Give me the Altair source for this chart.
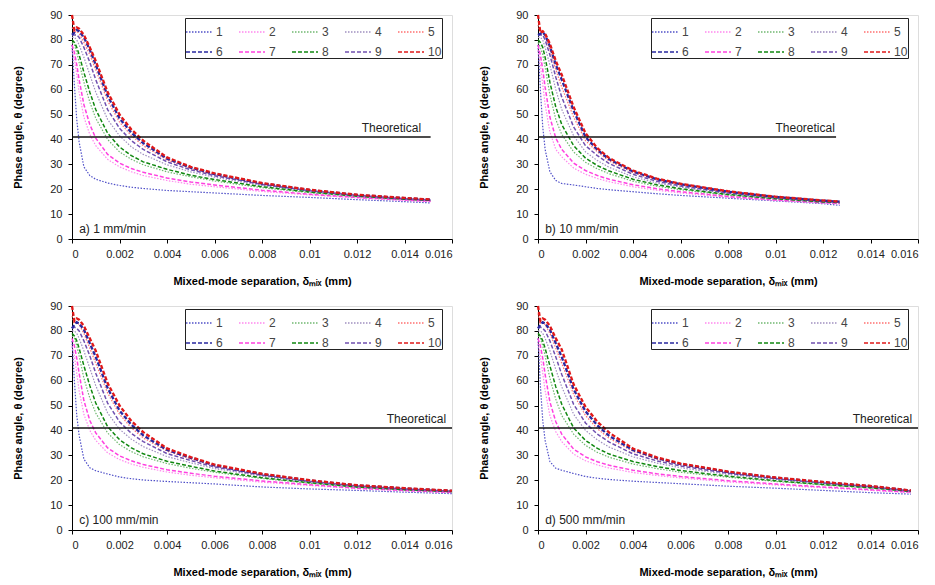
import altair as alt
import pandas as pd

SERIES = ["1", "2", "3", "4", "5", "6", "7", "8", "9", "10"]
COLORS = ["#5050c8", "#ff88ee", "#70b870", "#a090c0", "#ff7070",
          "#2828a0", "#ff40e0", "#108810", "#7050b0", "#e01818"]
DASHES = [[1.5, 1.5]] * 5 + [[4, 2]] * 5
THIN = ["1", "2", "3", "4", "5"]
MID = ["7", "8", "9"]
THICK = ["6", "10"]

PANEL_LABELS = ["a) 1 mm/min", "b) 10 mm/min", "c) 100 mm/min", "d) 500 mm/min"]
THEO_VALUE = 41
THEO_END = [0.0151, 0.01255, 0.016, 0.016]
THEO_TEXT_X = [0.0147, 0.0125, 0.01575, 0.01575]
LABEL_X = [0.0003, 0.0003, 0.0003, 0.0003]
LABEL_Y = [4, 4, 4, 4]
X_TICKS = [0, 0.002, 0.004, 0.006, 0.008, 0.01, 0.012, 0.014, 0.016]
Y_TICKS = [0, 10, 20, 30, 40, 50, 60, 70, 80, 90]

# ---- panel a) 1 mm/min ----
A_X = [0, 0.0001, 0.0002, 0.0003, 0.0005, 0.00075, 0.001, 0.0015, 0.002, 0.0025,
       0.003, 0.004, 0.005, 0.006, 0.008, 0.010, 0.012, 0.014, 0.0151]
A1 = [78, 62, 48, 39, 29, 25.5, 24, 22.5, 21.5, 20.8, 20.3, 19.5, 19, 18.5, 17.5, 16.7, 15.8, 15.0, 14.5]
A2 = [76, 72, 66, 59, 49, 42, 37.5, 32, 29, 27, 25.5, 23.5, 22, 21.0, 19.1, 17.7, 16.5, 15.5, 15.0]
A3 = [79, 78, 75, 71, 63, 55, 48.5, 40, 35, 32, 29.8, 27, 25, 23.3, 20.6, 18.6, 17.0, 15.9, 15.4]
A4 = [81, 81, 80, 78, 73, 66, 59, 48, 41.5, 37, 34, 29.8, 27, 24.8, 21.5, 19.2, 17.4, 16.1, 15.6]
A5 = [85, 83, 83.5, 82.5, 79, 74, 68, 55.5, 47, 41.5, 37.5, 31.8, 28.3, 25.8, 22.1, 19.5, 17.6, 16.3, 15.8]
A6 = [82, 83, 84, 83.5, 81, 76, 70, 57.5, 48.5, 42.7, 38.5, 32.3, 28.7, 26.1, 22.3, 19.7, 17.7, 16.4, 15.8]
A7 = [78, 75, 70, 64, 54, 46, 40.5, 34, 30.5, 28.3, 26.8, 24.5, 22.9, 21.7, 19.6, 18.0, 16.7, 15.7, 15.2]
A8 = [80, 79, 77, 74, 67, 59, 52, 42.5, 37, 33.5, 31, 28, 25.6, 23.9, 21.0, 18.9, 17.2, 16.0, 15.5]
A9 = [82, 82, 82, 81, 77, 71, 64, 52, 44.5, 39.5, 36, 31, 27.8, 25.4, 21.9, 19.4, 17.5, 16.2, 15.7]
A10 = [90, 84, 85, 84.5, 82, 77, 71.5, 59, 50, 44, 39.5, 32.8, 29.0, 26.4, 22.5, 19.8, 17.8, 16.5, 15.9]

# ---- panel b) 10 mm/min ----
B_X = [0, 0.0001, 0.0002, 0.0003, 0.0005, 0.00075, 0.001, 0.0015, 0.002, 0.0025,
       0.003, 0.004, 0.005, 0.006, 0.008, 0.010, 0.012, 0.0127]
B1 = [78, 60, 45, 36, 27, 23.5, 22.3, 21.7, 21, 20.3, 19.8, 19, 18.2, 17.5, 16.4, 15.3, 14.2, 13.5]
B2 = [76, 70, 62, 54, 43, 36, 33, 28.5, 26, 24.3, 23, 21, 19.6, 18.5, 16.8, 15.5, 14.4, 14.1]
B3 = [79, 77, 74, 69, 58, 48, 42, 35, 30.8, 28.2, 26.2, 23.2, 21.2, 19.8, 17.6, 16, 14.8, 14.5]
B4 = [81, 81, 80, 77, 70, 60, 52, 41.5, 35, 31.5, 28.8, 25, 22.5, 20.8, 18.2, 16.4, 15, 14.7]
B5 = [86, 83, 83, 81.5, 76, 68, 61, 49, 39.5, 35, 31.3, 26.7, 23.7, 21.7, 18.8, 16.8, 15.3, 14.9]
B6 = [82, 82.5, 83, 82, 77.5, 70, 64, 51.5, 41, 35.8, 32, 27.1, 24, 22, 19, 16.9, 15.4, 15]
B7 = [78, 74, 68, 61, 49, 40.5, 36, 30.5, 27.5, 25.5, 24, 21.8, 20.2, 19, 17.1, 15.7, 14.6, 14.3]
B8 = [80, 79, 77, 73, 63, 53, 46, 37.5, 32.5, 29.5, 27.3, 24, 21.8, 20.2, 17.9, 16.2, 14.9, 14.6]
B9 = [82, 82, 82, 80, 74, 65, 57, 45, 37.5, 33.5, 30.3, 26, 23.2, 21.3, 18.5, 16.6, 15.2, 14.8]
B10 = [90, 83, 83.5, 82.5, 78.5, 71.5, 66, 53, 42.5, 36.5, 32.5, 27.5, 24.3, 22.2, 19.2, 17, 15.5, 15.1]

# ---- panel c) 100 mm/min ----
C_X = [0, 0.0001, 0.0002, 0.0003, 0.0005, 0.00075, 0.001, 0.0015, 0.002, 0.0025,
       0.003, 0.004, 0.005, 0.006, 0.008, 0.010, 0.012, 0.014, 0.016]
C1 = [76, 60, 46, 38, 28.5, 25, 23.8, 22.5, 21.3, 20.6, 20.1, 19.5, 19, 18.5, 17.3, 16.5, 15.9, 15.2, 14.6]
C2 = [74, 70, 63, 56, 46.5, 40, 36, 31, 28.3, 26.5, 25.2, 23.3, 22, 21.0, 19.2, 17.9, 16.6, 15.7, 15.0]
C3 = [78, 77, 74, 70, 61, 53, 47, 39, 34.3, 31.5, 29.4, 26.7, 24.8, 23.2, 20.7, 18.8, 17.1, 16.1, 15.3]
C4 = [80, 80, 79, 77, 72, 65, 58, 47, 40.5, 36.5, 33.5, 29.5, 27, 24.7, 21.6, 19.3, 17.5, 16.4, 15.5]
C5 = [86, 83, 83.5, 82.5, 79, 73, 67, 55, 46.5, 41, 37, 31.7, 28.6, 25.7, 22.2, 19.7, 17.8, 16.6, 15.7]
C6 = [81, 82.5, 83.5, 83, 80.5, 75, 69.5, 57, 48, 42.3, 38, 32.2, 29, 26.0, 22.4, 19.9, 17.9, 16.7, 15.7]
C7 = [77, 74, 69, 63, 52, 44, 39, 33, 29.8, 27.8, 26.3, 24.2, 22.8, 21.6, 19.7, 18.2, 16.8, 15.9, 15.1]
C8 = [79, 78, 76, 73, 66, 58, 51, 41.5, 36.3, 33, 30.6, 27.6, 25.6, 23.7, 21.0, 19.0, 17.3, 16.2, 15.4]
C9 = [81, 81.5, 81, 80, 76, 70, 63, 51, 43.5, 38.8, 35.5, 30.7, 27.9, 25.3, 22.0, 19.5, 17.7, 16.5, 15.6]
C10 = [90, 84, 85, 84.5, 82, 77, 72, 59, 50, 43.8, 39.3, 32.8, 29.3, 26.3, 22.6, 20.0, 18.0, 16.8, 15.8]

# ---- panel d) 500 mm/min ----
D_X = [0, 0.0001, 0.0002, 0.0003, 0.0005, 0.00075, 0.001, 0.0015, 0.002, 0.0025,
       0.003, 0.004, 0.005, 0.006, 0.008, 0.010, 0.012, 0.014, 0.0157]
D1 = [77, 58, 44, 36, 27.5, 24.8, 24, 22.7, 21.5, 20.8, 20.3, 19.6, 19.1, 18.6, 17.6, 16.8, 15.9, 15, 14.4]
D2 = [75, 70, 63, 56, 46, 39.5, 35.5, 30.5, 27.8, 26.1, 24.9, 23.1, 21.9, 20.9, 19.3, 18.1, 17, 15.9, 15]
D3 = [78, 77, 74, 70, 61, 52.5, 46, 38.5, 34, 31.2, 29.2, 26.5, 24.7, 23.2, 21.2, 19.5, 18.1, 16.8, 15.4]
D4 = [80, 80, 79, 77, 72, 64.5, 57.5, 46.5, 40, 36.2, 33.3, 29.4, 26.9, 25, 22.3, 20.3, 18.7, 17.2, 15.6]
D5 = [87, 83, 83.5, 82.5, 79, 73, 67, 54.5, 46, 40.7, 36.8, 31.6, 28.5, 26.2, 23.1, 20.8, 19.1, 17.5, 15.8]
D6 = [81, 82.5, 83.5, 83, 80.5, 75, 69.5, 56.5, 47.7, 42, 37.8, 32.1, 28.9, 26.5, 23.3, 21, 19.2, 17.6, 15.8]
D7 = [77, 74, 69, 62.5, 51.5, 43.5, 38.5, 32.5, 29.4, 27.4, 26, 24, 22.6, 21.5, 19.8, 18.5, 17.3, 16.2, 15.2]
D8 = [79, 78, 76, 73, 66, 57.5, 50.5, 41, 36, 32.8, 30.5, 27.5, 25.5, 23.9, 21.6, 19.8, 18.3, 17, 15.5]
D9 = [81, 81.5, 81, 80, 76, 69.5, 62.5, 50.5, 43, 38.5, 35.3, 30.6, 27.8, 25.7, 22.8, 20.6, 18.9, 17.4, 15.7]
D10 = [90, 84, 85, 84.5, 82, 77, 72.5, 58.5, 49.5, 43.5, 39.1, 32.7, 29.2, 26.7, 23.5, 21.1, 19.3, 17.7, 15.9]

PANELS = [
    (A_X, [A1, A2, A3, A4, A5, A6, A7, A8, A9, A10]),
    (B_X, [B1, B2, B3, B4, B5, B6, B7, B8, B9, B10]),
    (C_X, [C1, C2, C3, C4, C5, C6, C7, C8, C9, C10]),
    (D_X, [D1, D2, D3, D4, D5, D6, D7, D8, D9, D10]),
]

FONT = "Liberation Sans"

legend = alt.Legend(
    title=None, orient="none", legendX=113, legendY=3, columns=5, direction="horizontal",
    symbolType="stroke", symbolSize=676, symbolStrokeWidth=1.6,
    labelFontSize=12, labelColor="#444", labelFont=FONT, labelOffset=3,
    strokeColor="#222", fillColor="white", padding=0,
    rowPadding=0, columnPadding=12,
)

x_axis = alt.Axis(values=X_TICKS, format="~g", title="Mixed-mode separation, δₘᵢₓ (mm)",
                  labelFont=FONT, labelFontSize=11, labelColor="#222", labelPadding=5,
                  titleFont=FONT, titleFontSize=11, titleFontWeight="bold", titleColor="#000",
                  titlePadding=16, domainColor="#000", tickColor="#000", tickSize=4,
                  ticks=True, grid=False, labelOverlap=False)
y_axis = alt.Axis(values=Y_TICKS, title="Phase angle, θ (degree)",
                  labelFont=FONT, labelFontSize=11, labelColor="#222", labelPadding=6,
                  titleFont=FONT, titleFontSize=11, titleFontWeight="bold", titleColor="#000",
                  titlePadding=26, domainColor="#000", tickColor="#000", tickSize=4,
                  ticks=True, grid=False, labelOverlap=False, labelFlush=False)

XENC = alt.X("x:Q", scale=alt.Scale(domain=[0, 0.016], nice=False), axis=x_axis)
YENC = alt.Y("theta:Q", scale=alt.Scale(domain=[0, 90], nice=False), axis=y_axis)


def make_panel(i):
    xs, ys = PANELS[i]
    rows = []
    for s, vals in zip(SERIES, ys):
        for x, v in zip(xs, vals):
            rows.append({"x": x, "theta": v, "series": s})
    df = pd.DataFrame(rows)

    color = alt.Color("series:N", scale=alt.Scale(domain=SERIES, range=COLORS), legend=legend)
    dash = alt.StrokeDash("series:N", scale=alt.Scale(domain=SERIES, range=DASHES), legend=legend)

    base = alt.Chart(df)
    layers = []
    for group, width in ((THIN, 1.2), (MID, 1.5), (THICK, 2.3)):
        layers.append(
            base.transform_filter(alt.FieldOneOfPredicate(field="series", oneOf=group))
            .mark_line(strokeWidth=width)
            .encode(x=XENC, y=YENC, color=color, strokeDash=dash)
        )

    theo = pd.DataFrame({"x": [0], "x_end": [THEO_END[i]], "theta": [THEO_VALUE]})
    rule = alt.Chart(theo).mark_rule(color="#111", strokeWidth=1.5).encode(
        x=XENC, x2="x_end:Q", y=YENC)
    theo_lab = pd.DataFrame({"x": [THEO_TEXT_X[i]], "theta": [THEO_VALUE], "label": ["Theoretical"]})
    theo_text = alt.Chart(theo_lab).mark_text(
        align="right", baseline="alphabetic", dy=-5, fontSize=12, font=FONT, color="#222"
    ).encode(x=XENC, y=YENC, text="label:N")

    lab = pd.DataFrame({"x": [LABEL_X[i]], "theta": [LABEL_Y[i]], "label": [PANEL_LABELS[i]]})
    lab_text = alt.Chart(lab).mark_text(
        align="left", baseline="middle", fontSize=12, font=FONT, color="#222"
    ).encode(x=XENC, y=YENC, text="label:N")

    return alt.layer(*layers, rule, theo_text, lab_text).properties(width=380, height=224)


chart = alt.concat(
    *[make_panel(i) for i in range(4)], columns=2,
    spacing=alt.RowColnumber(row=12, column=20),
).resolve_scale(
    color="independent", strokeDash="independent"
).resolve_legend(
    color="independent", strokeDash="independent"
).properties(
    padding={"left": 12, "top": 8, "right": 5, "bottom": 5}
).configure_view(
    stroke="#555", strokeWidth=1
).configure_legend(strokeWidth=2).configure(background="white")

chart.save("out.html", embed_options={"renderer": "svg", "actions": False})
